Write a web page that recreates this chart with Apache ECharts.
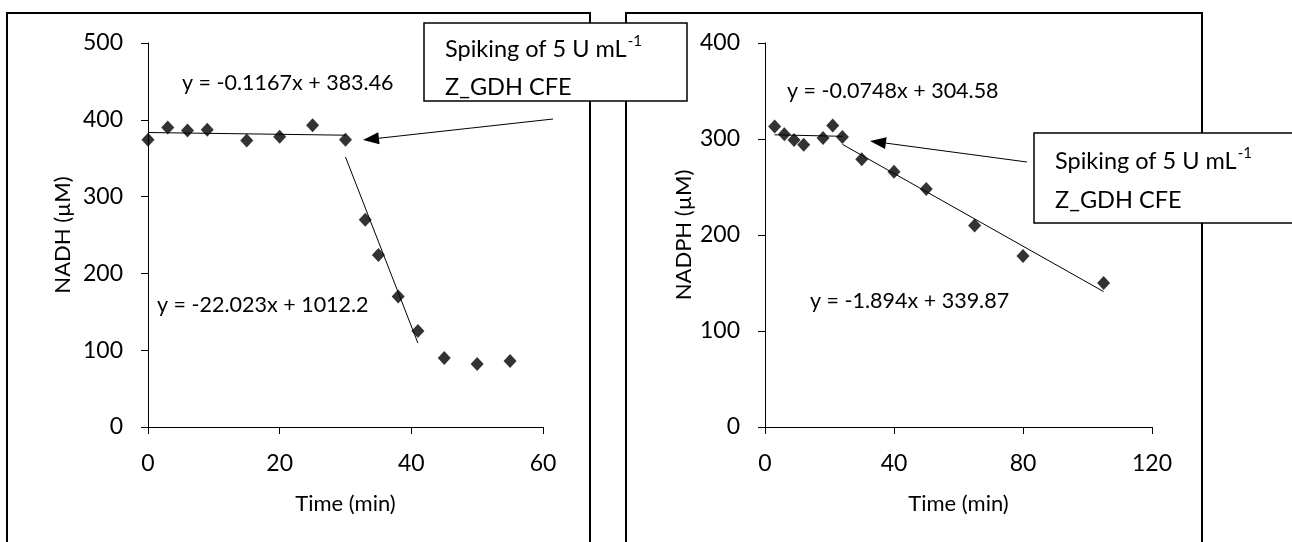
<!DOCTYPE html>
<html>
<head>
<meta charset="utf-8">
<script src="https://cdn.jsdelivr.net/npm/echarts@6/dist/echarts.min.js"></script>
<style>
  html, body { margin: 0; padding: 0; background: #fff; }
  #chart { width: 1292px; height: 542px; }
</style>
</head>
<body>
<div id="chart"></div>
<script>
// NADH consumption before / after enzyme spiking (left panel)
const nadhTime = [0, 3, 6, 9, 15, 20, 25, 30, 33, 35, 38, 41, 45, 50, 55];
const nadhConc = [374, 390, 386, 387, 373, 378, 393, 374, 270, 224, 170, 125, 90, 82, 86];

// NADPH consumption (right panel)
const nadphTime = [3, 6, 9, 12, 18, 21, 24, 30, 40, 50, 65, 80, 105];
const nadphConc = [313, 305, 299, 294, 301, 314, 302, 279, 266, 248, 210, 178, 150];

// Linear fits: [slope, intercept, xFrom, xTo]
const nadhFits = [[-0.1167, 383.46, 0, 30], [-22.023, 1012.2, 30, 41]];
const nadphFits = [[-0.0748, 304.58, 3, 24], [-1.894, 339.87, 24, 105]];

const leftXTicks = { min: 0, max: 60, interval: 20 };
const leftYTicks = { min: 0, max: 500, interval: 100 };
const rightXTicks = { min: 0, max: 120, interval: 40 };
const rightYTicks = { min: 0, max: 400, interval: 100 };

const FONT = 'Lato';
const FS = 22;
const EQ_FONT = '21.5px "' + FONT + '"';
const BOX_FONT = '23.5px "' + FONT + '"';

const measureCtx = document.createElement('canvas').getContext('2d');
function textWidth(str, font) {
  measureCtx.font = font;
  return measureCtx.measureText(str).width;
}

function fmtEq(f) {
  return 'y = ' + f[0] + 'x + ' + f[1];
}

function pairs(xs, ys) { return xs.map((x, i) => [x, ys[i]]); }

function fitLine(f) {
  return [[f[2], f[0] * f[2] + f[1]], [f[3], f[0] * f[3] + f[1]]];
}

function makeX(idx, t, name) {
  return {
    gridIndex: idx, type: 'value', min: t.min, max: t.max, interval: t.interval,
    name: name, nameLocation: 'middle', nameGap: 66,
    nameTextStyle: { fontFamily: FONT, fontSize: FS, color: '#000' },
    axisLine: { show: true, onZero: false, lineStyle: { color: '#000', width: 1 } },
    axisTick: { show: true, inside: false, length: 7, lineStyle: { color: '#000' } },
    axisLabel: { fontFamily: FONT, fontSize: FS + 1, color: '#000', margin: 25 },
    splitLine: { show: false }
  };
}
function makeY(idx, t, name, gap) {
  return {
    gridIndex: idx, type: 'value', min: t.min, max: t.max, interval: t.interval,
    name: name, nameLocation: 'middle', nameGap: gap,
    nameTextStyle: { fontFamily: FONT, fontSize: FS, color: '#000' },
    axisLine: { show: true, onZero: false, lineStyle: { color: '#000', width: 1 } },
    axisTick: { show: true, inside: false, length: 7, lineStyle: { color: '#000' } },
    axisLabel: { fontFamily: FONT, fontSize: FS + 1, color: '#000', margin: 25 },
    splitLine: { show: false }
  };
}

function scatter(idx, data) {
  return {
    type: 'scatter', xAxisIndex: idx, yAxisIndex: idx, data: data,
    symbol: 'diamond', symbolSize: [13, 14],
    itemStyle: { color: '#000' }, silent: true, z: 5
  };
}
function fitSeries(idx, f) {
  return {
    type: 'line', xAxisIndex: idx, yAxisIndex: idx, data: fitLine(f),
    showSymbol: false, symbol: 'none', lineStyle: { color: '#000', width: 1 },
    silent: true, z: 4
  };
}

// Callout arrow with filled head
function arrow(x1, y1, x2, y2) {
  const dx = x2 - x1, dy = y2 - y1, L = Math.hypot(dx, dy);
  const ux = dx / L, uy = dy / L, px = -uy, py = ux;
  const hl = 16, hw = 6;
  const bx = x2 - ux * hl, by = y2 - uy * hl;
  return [
    { type: 'line', shape: { x1: x1, y1: y1, x2: bx, y2: by }, style: { stroke: '#000', lineWidth: 1 }, z: 10 },
    { type: 'polygon', shape: { points: [[x2, y2], [bx + px * hw, by + py * hw], [bx - px * hw, by - py * hw]] },
      style: { fill: '#000' }, z: 10 }
  ];
}

function callout(x, y, w, h, l1, l2) {
  const main = 'Spiking of 5 U mL';
  const w1 = textWidth(main, BOX_FONT);
  return [
    { type: 'rect', shape: { x: x, y: y, width: w, height: h }, style: { fill: '#fff', stroke: '#000', lineWidth: 1.5 }, z: 20 },
    { type: 'text', x: x + 21, y: y + l1, style: { text: main, font: BOX_FONT, fill: '#000', verticalAlign: 'middle' }, z: 21 },
    { type: 'text', x: x + 21 + w1 + 1, y: y + l1 - 8, style: { text: '-1', font: '15px "' + FONT + '"', fill: '#000', verticalAlign: 'middle' }, z: 21 },
    { type: 'text', x: x + 21, y: y + l2, style: { text: 'Z_GDH CFE', font: BOX_FONT, fill: '#000', verticalAlign: 'middle' }, z: 21 }
  ];
}

function eqText(x, y, f) {
  return { type: 'text', x: x, y: y, style: { text: fmtEq(f), font: EQ_FONT, fill: '#000', verticalAlign: 'middle' }, z: 8 };
}

const chart = echarts.init(document.getElementById('chart'), null, { renderer: 'canvas' });

const graphics = [
  // panel frames
  { type: 'rect', shape: { x: 7, y: 13, width: 583, height: 540 }, style: { fill: 'none', stroke: '#000', lineWidth: 2 }, z: 1 },
  { type: 'rect', shape: { x: 626, y: 13, width: 576, height: 540 }, style: { fill: 'none', stroke: '#000', lineWidth: 2 }, z: 1 },
  eqText(182, 83, nadhFits[0]),
  eqText(157, 305, nadhFits[1]),
  eqText(787, 91, nadphFits[0]),
  eqText(810, 301, nadphFits[1])
].concat(arrow(553, 119, 363, 140))
 .concat(arrow(1027, 162, 870, 141))
 .concat(callout(424, 23, 263, 78, 26, 64))
 .concat(callout(1034, 133, 262, 90, 28, 67));

chart.setOption({
  backgroundColor: '#fff',
  animation: false,
  grid: [
    { left: 148, top: 43, width: 395, height: 384 },
    { left: 765, top: 43, width: 387, height: 384 }
  ],
  xAxis: [makeX(0, leftXTicks, 'Time (min)'), makeX(1, rightXTicks, 'Time (min)')],
  yAxis: [makeY(0, leftYTicks, 'NADH (µM)', 74), makeY(1, rightYTicks, 'NADPH (µM)', 70)],
  series: [
    scatter(0, pairs(nadhTime, nadhConc)),
    fitSeries(0, nadhFits[0]),
    fitSeries(0, nadhFits[1]),
    scatter(1, pairs(nadphTime, nadphConc)),
    fitSeries(1, nadphFits[0]),
    fitSeries(1, nadphFits[1])
  ],
  graphic: graphics
});
</script>
</body>
</html>
